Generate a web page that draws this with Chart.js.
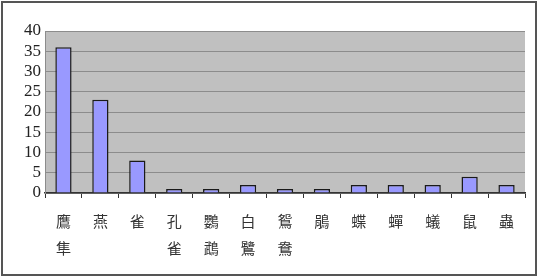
<!DOCTYPE html>
<html>
<head>
<meta charset="utf-8">
<script src="https://cdn.jsdelivr.net/npm/chart.js@4"></script>
<style>
  body { margin: 0; background: #fff; }
  #wrap { width: 538px; height: 277px; position: relative; }
</style>
</head>
<body>
<div id="wrap"><canvas id="barCanvas"></canvas></div>
<script>
// categories (one entry per line of the vertical label)
const labels = [
    ["鷹", "隼"], ["燕"], ["雀"], ["孔", "雀"], ["鸚", "鵡"], ["白", "鷺"],
    ["鴛", "鴦"], ["鵑"], ["蝶"], ["蟬"], ["蟻"], ["鼠"], ["蟲"]
];
const counts = [36, 23, 8, 1, 1, 2, 1, 1, 2, 2, 2, 4, 2];
const yTicks = [0, 5, 10, 15, 20, 25, 30, 35, 40];

const frame = {
    id: "frame",
    beforeDraw(chart) {
        const c = chart.ctx, a = chart.chartArea;
        c.save();
        c.fillStyle = "#c0c0c0";
        c.fillRect(a.left, a.top, a.right - a.left, a.bottom - a.top);
        c.restore();
    },
    afterDraw(chart) {
        const c = chart.ctx;
        c.save();
        c.strokeStyle = "#555";
        c.lineWidth = 2;
        c.strokeRect(2, 2, 534, 273);
        c.restore();
    }
};

const barCanvas = document.getElementById("barCanvas");

new Chart(barCanvas, {
    type: "bar",
    data: {
        labels: labels,
        datasets: [{
            data: counts,
            backgroundColor: "#9999ff",
            borderColor: "#1a1a1a",
            borderWidth: 1.5,
            barPercentage: 0.44,
            categoryPercentage: 1
        }]
    },
    options: {
        responsive: true,
        maintainAspectRatio: false,
        animation: false,
        layout: { padding: { top: 31, right: 13, bottom: 8, left: 0 } },
        plugins: { legend: { display: false }, tooltip: { enabled: false } },
        scales: {
            x: {
                offset: true,
                grid: { offset: true, drawOnChartArea: false, tickLength: 5, color: "#333" },
                border: { color: "#333", width: 1.5 },
                ticks: {
                    color: "#333",
                    padding: 9,
                    maxRotation: 0,
                    autoSkip: false,
                    font: { family: "'Noto Sans CJK TC'", size: 15, lineHeight: 1.85 }
                },
                afterFit(s) { s.height = 76; }
            },
            y: {
                min: 0,
                max: 40,
                afterBuildTicks(s) { s.ticks = yTicks.map(v => ({ value: v })); },
                grid: { color: "#8c8c8c", drawTicks: false },
                border: { color: "#8c8c8c" },
                ticks: {
                    color: "#222",
                    padding: 4,
                    autoSkip: false,
                    font: { family: "'Liberation Serif'", size: 17, lineHeight: 1 }
                },
                afterFit(s) { s.width = 45; }
            }
        }
    },
    plugins: [frame]
});
</script>
</body>
</html>
